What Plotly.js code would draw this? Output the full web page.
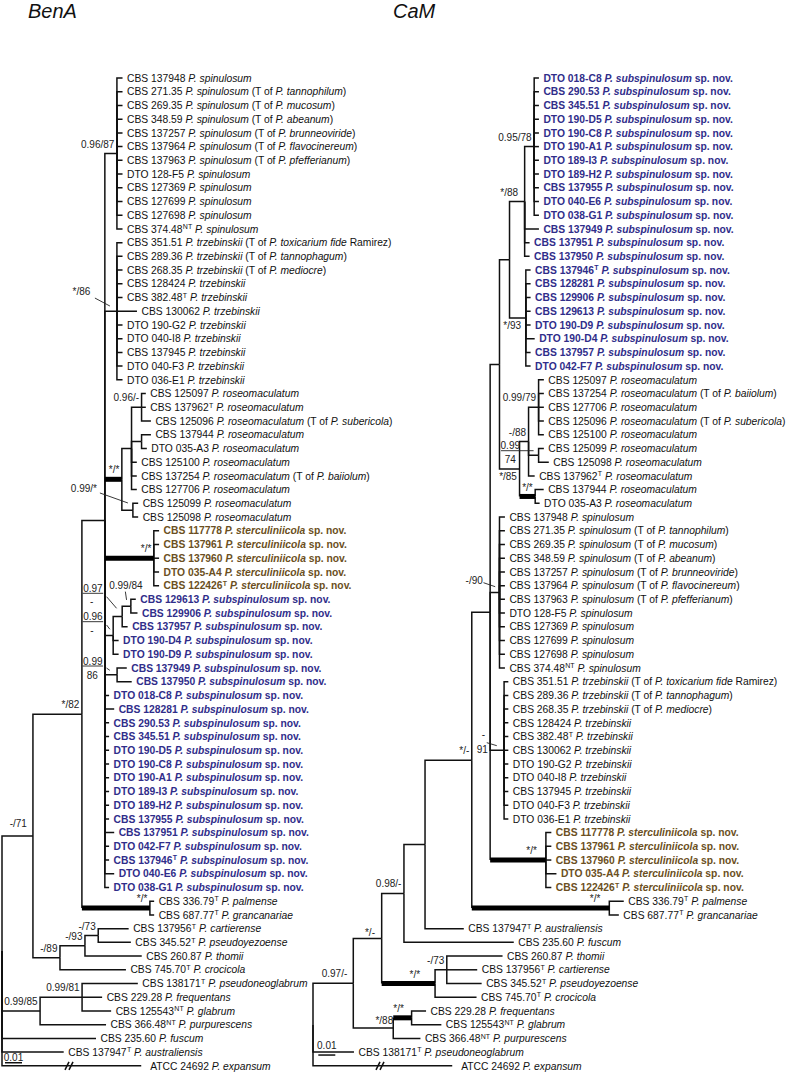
<!DOCTYPE html>
<html><head><meta charset="utf-8">
<script src="https://cdn.plot.ly/plotly-3.0.1.min.js"></script>
<style>html,body{margin:0;padding:0;background:#fff}#chart{width:786px;height:1074px}</style>
</head><body><div id="chart"></div>
<script>
// ================= DATA =================
const treeTitles = ["BenA", "CaM"];
const scaleBarValue = 0.01;

// strain catalogue (index = tip id used in the Newick strings)
const tipStrains = [
 "CBS 137948","CBS 271.35","CBS 269.35","CBS 348.59","CBS 137257","CBS 137964","CBS 137963","DTO 128-F5","CBS 127369","CBS 127699","CBS 127698","CBS 374.48",
 "CBS 351.51","CBS 289.36","CBS 268.35","CBS 128424","CBS 382.48","CBS 130062","DTO 190-G2","DTO 040-I8","CBS 137945","DTO 040-F3","DTO 036-E1",
 "CBS 125097","CBS 137962","CBS 125096","CBS 137944","DTO 035-A3","CBS 125100","CBS 137254","CBS 127706","CBS 125099","CBS 125098",
 "CBS 117778","CBS 137961","CBS 137960","DTO 035-A4","CBS 122426",
 "CBS 129613","CBS 129906","CBS 137957","DTO 190-D4","DTO 190-D9","CBS 137949","CBS 137950","DTO 018-C8","CBS 128281","CBS 290.53","CBS 345.51",
 "DTO 190-D5","DTO 190-C8","DTO 190-A1","DTO 189-I3","DTO 189-H2","CBS 137955","CBS 137951","DTO 042-F7","CBS 137946","DTO 040-E6","DTO 038-G1",
 "CBS 336.79","CBS 687.77","CBS 137956","CBS 345.52","CBS 260.87","CBS 745.70","CBS 138171","CBS 229.28","CBS 125543","CBS 366.48","CBS 235.60","CBS 137947","ATCC 24692"
];
const tipSpecies = [
 "spinulosum","spinulosum","spinulosum","spinulosum","spinulosum","spinulosum","spinulosum","spinulosum","spinulosum","spinulosum","spinulosum","spinulosum",
 "trzebinskii","trzebinskii","trzebinskii","trzebinskii","trzebinskii","trzebinskii","trzebinskii","trzebinskii","trzebinskii","trzebinskii","trzebinskii",
 "roseomaculatum","roseomaculatum","roseomaculatum","roseomaculatum","roseomaculatum","roseomaculatum","roseomaculatum","roseomaculatum","roseomaculatum","roseomaculatum",
 "sterculiniicola","sterculiniicola","sterculiniicola","sterculiniicola","sterculiniicola",
 "subspinulosum","subspinulosum","subspinulosum","subspinulosum","subspinulosum","subspinulosum","subspinulosum","subspinulosum","subspinulosum","subspinulosum","subspinulosum",
 "subspinulosum","subspinulosum","subspinulosum","subspinulosum","subspinulosum","subspinulosum","subspinulosum","subspinulosum","subspinulosum","subspinulosum","subspinulosum",
 "palmense","grancanariae","cartierense","pseudoyezoense","thomii","crocicola","pseudoneoglabrum","frequentans","glabrum","purpurescens","fuscum","australiensis","expansum"
];
const typeMarkIdx = [11,16,24,37,57,60,61,62,63,65,66,68,69,71];
const typeMarkVal = ["NT","T","T","T","T","T","T","T","T","T","T","NT","NT","T"];
const typeOfIdx = [1,2,3,4,5,6,12,13,14,25,29];
const typeOfName = ["tannophilum","mucosum","abeanum","brunneoviride","flavocinereum","pfefferianum","toxicarium fide","tannophagum","mediocre","subericola","baiiolum"];
const typeOfAuthor = ["","","","","","","Ramirez","","","",""];
const novelSpecies = ["sterculiniicola","subspinulosum"];
const brokenTip = 72;

// trees: tip ids, support values (BI pp / ML bs) and branch lengths (substitutions/site)
const newickBenA = "(((((0:0.0033,1:0.0033,2:0.0033,3:0.0033,4:0.0033,5:0.0033,6:0.0033,7:0.0033,8:0.0033,9:0.0033,10:0.0033,11:0.0033)'0.96/87':0.0071," +
 "(12:0.0033,13:0.0033,14:0.0033,15:0.0033,16:0.0033,17:0.0118,18:0.0033,19:0.0033,20:0.0033,21:0.0033,22:0.0033)'*/86':0.0071," +
 "(((23:0.0025,24:0.0025,25:0.0055)'0.96/-':0.0059,(26:0.0055,27:0.0031):0.0059,28:0.0031,29:0.0031,30:0.0031):0.0057,(31:0.0031,32:0.0031)'0.99/*':0.0065)'*/*':0.0100," +
 "(33:0.0031,34:0.0031,35:0.0031,36:0.0031,37:0.0031)'*/*':0.0288," +
 "(((38:0.0029,39:0.0039)'0.99/84':0.0051,40:0.0032)'0.97/-':0.0053,41:0.0032,42:0.0032)'0.96/-':0.0049," +
 "(43:0.0057,44:0.0086)'0.99/86':0.0072," +
 "45:0.0025,46:0.0055,47:0.0025,48:0.0025,49:0.0025,50:0.0025,51:0.0025,52:0.0025,53:0.0025,54:0.0025,55:0.0055,56:0.0025,57:0.0025,58:0.0055,59:0.0025):0.0135," +
 "(60:0.0025,61:0.0025)'*/*':0.0400)'*/82':0.0288," +
 "(((62:0.0179,63:0.0192)'-/73':0.0078,64:0.0334)'-/93':0.0147,65:0.0388)'-/89':0.0159)'-/71':0.0182," +
 "((66:0.0328,67:0.0118,68:0.0171)'0.99/81':0.0247,69:0.0388)'0.99/85':0.0224,70:0.0553,71:0.0363,72:0.0819);";

const newickCaM = "(((((((((((45:0.0028,47:0.0028,48:0.0028,49:0.0028,50:0.0028,51:0.0028,52:0.0028,53:0.0028,54:0.0028,58:0.0028,59:0.0028)'0.95/78':0.0056,43:0.0084,55:0.0029,44:0.0029)'*/88':0.0089," +
 "(57:0.0028,46:0.0028,39:0.0028,38:0.0028,42:0.0028,41:0.0052,40:0.0028,56:0.0028)'*/93':0.0096):0.0059," +
 "(((23:0.0031,29:0.0031,30:0.0031,25:0.0031,28:0.0031)'0.99/79':0.0059,(31:0.0031,32:0.0060)'0.99/74':0.0059,24:0.0036)'-/88':0.0053,(26:0.0050,27:0.0026)'*/*':0.0092)'*/85':0.0118):0.0055," +
 "(0:0.0032,1:0.0032,2:0.0032,3:0.0032,4:0.0032,5:0.0032,6:0.0032,7:0.0032,8:0.0032,9:0.0032,10:0.0032,11:0.0032)'-/90':0.0055," +
 "(12:0.0025,13:0.0025,14:0.0025,15:0.0025,16:0.0025,17:0.0025,18:0.0025,19:0.0025,20:0.0025,21:0.0025,22:0.0025)'-/91':0.0082," +
 "(33:0.0032,34:0.0032,35:0.0032,36:0.0062,37:0.0032)'*/*':0.0328):0.0108," +
 "(60:0.0085,61:0.0056)'*/*':0.0809)'*/-':0.0275,71:0.0228):0.0124,70:0.0646)'0.98/-':0.0131," +
 "((64:0.0328,62:0.0179,63:0.0205)'-/73':0.0069,65:0.0244)'*/*':0.0314)'*/-':0.0167," +
 "((67:0.0085,68:0.0175)'*/*':0.0108,69:0.0160)'*/88':0.0235)'0.97/-':0.0237,66:0.0241,72:0.0819);";

// ================= PRESENTATION =================
const W = 786, H = 1074;
const PXU = 1 / 1700;          // substitutions per pixel (0.01 = 17 px)
const ROW = 13.72, TOP = 78;   // tip row spacing and first row (px)
const FONT = "Liberation Sans, Arial, Helvetica, sans-serif";
const TIP_SIZE = 10.3, SUP_SIZE = 7, SUP_SIZE_STR = 10;
const NOVEL_COLOR = {subspinulosum: "#302d8a", sterculiniicola: "#6b4f22"};
const dx = p => p * PXU, dy = p => p / ROW;

const treeSetup = [
  {newick: newickBenA, rootPx: 2, titlePx: 28, scale: {dx: 3, dy: -3.1, tdy: -5.5}},
  {newick: newickCaM, rootPx: 313, titlePx: 393, scale: {dx: 5.3, dy: -10.8, tdy: -10}}
];
// support-label placement (px, relative to node). default: right-aligned above the branch
const placements = [
 { '-/71@0-65': {rx: -6, dy: -13},
   '*/86@12-22': {c: [-35.5, -19.5], lead: [[-22, -13.2], [-7, -5.2]]},
   '0.99/*@31-32': {c: [-49, -22], lead: [[-33, -17.2], [-5, -7.2]]},
   '0.99/84@38-39': {c: [-5, -21.3], lead: [[-5.5, -14.6], [-4.3, -6.3]]},
   '0.97/-@38-40': {frac: [[-29.3, -28.2], [-30.6, -14.8]], bar: [[-39.6, -23.2], [-19, -23.2]], lead: [[-15.6, -19.8], [-5.6, -8.2]]},
   '0.96/-@38-42': {frac: [[-20.3, -18.7], [-21.3, -5.4]], bar: [[-30.6, -13.7], [-10, -13.7]], lead: [[-6.6, -10.4], [-3.3, -6.1]]},
   '0.99/86@43-44': {frac: [[-24.3, -13.1], [-24.8, 0.2]], bar: [[-34.6, -8.8], [-14, -8.8]], lead: [[-10.6, -6.8], [-7.3, -4.5]]}
 },
 { '*/88@45-44': {rx: -6.5},
   '*/93@57-56': {rx: -4.7, dy: 7.6},
   '0.99/74@31-32': {frac: [[-28.3, -9.6], [-28.3, 3.7]], bar: [[-37.6, -4.6], [-5, -4.6]]},
   '*/85@23-27': {rx: -2.6, dy: 7.7},
   '-/90@0-11': {c: [-25.3, -12.5], lead: [[-16, -9.8], [-4.3, -5.8]]},
   '-/91@12-22': {frac: [[-20.7, -16.3], [-21.7, -1.3]], lead: [[-17.3, -7.6], [-7.3, -4.6]]},
   '*/*@33-37': {rx: -9}, '*/*@60-61': {rx: -9}, '*/-@45-65': {rx: -6.7, dy: -6.5},
   '*/*@64-65': {rx: -15}, '0.97/-@45-69': {rx: -6}, '*/*@67-68': {rx: -7.7}, '*/88@67-69': {rx: 0, dy: -8}
 }
];
const TEXT_NUDGE = 1.1; // px, plotly centres text slightly above the point

// ================= NEWICK =================
function parseNewick(str) {
  const s = str.replace(/\s+/g, ''); let i = 0;
  function node() {
    const n = {children: []};
    if (s[i] === '(') { i++; do { n.children.push(node()); } while (s[i++] === ','); }
    let lab = '';
    if (s[i] === "'") { i++; while (s[i] !== "'") lab += s[i++]; i++; }
    else { while (i < s.length && !':,);'.includes(s[i])) lab += s[i++]; }
    n.label = lab; n.len = 0;
    if (s[i] === ':') { i++; let num = ''; while (i < s.length && !',);'.includes(s[i])) num += s[i++]; n.len = parseFloat(num); }
    return n;
  }
  return node();
}

const ctx = document.createElement('canvas').getContext('2d');
function textWidth(s, bold, size) { ctx.font = (bold ? 'bold ' : '') + size + 'px "Liberation Sans", Arial, sans-serif'; return ctx.measureText(s).width; }

function tipParts(i) {
  const novel = novelSpecies.includes(tipSpecies[i]);
  const mk = typeMarkIdx.indexOf(i);
  let rest = '<i>P. ' + tipSpecies[i] + '</i>';
  const to = typeOfIdx.indexOf(i);
  if (to >= 0) rest += ' (T of <i>P. ' + typeOfName[to] + '</i>' + (typeOfAuthor[to] ? ' ' + typeOfAuthor[to] : '') + ')';
  if (novel) rest += ' sp. nov.';
  return {novel: novel, strain: tipStrains[i], sup: mk >= 0 ? typeMarkVal[mk] : '', rest: rest};
}

const thin = {x: [], y: []}, thick = {x: [], y: []}, leadL = {x: [], y: []};
const tipT = {x: [], y: [], t: [], c: [], s: []}, supR = {x: [], y: [], t: []}, supC = {x: [], y: [], t: []};
function seg(a, pts) { pts.forEach(p => { a.x.push(p[0]); a.y.push(p[1]); }); a.x.push(null); a.y.push(null); }
function addTip(x, y, t, c, s) { tipT.x.push(x); tipT.y.push(y); tipT.t.push(t); tipT.c.push(c); tipT.s.push(s); }
const annotations = [];

treeSetup.forEach((cfg, ti) => {
  const root = parseNewick(cfg.newick);
  let row = 0; const tips = [];
  (function place(n, px) {
    n.x = px + n.len;
    if (!n.children.length) { n.y = row++; n.tip = +n.label; n.first = n.last = n.tip; tips.push(n); }
    else { n.children.forEach(c => place(c, n.x)); const a = n.children[0], b = n.children[n.children.length - 1];
      n.y = (a.y + b.y) / 2; n.first = a.first; n.last = b.last; }
  })(root, dx(cfg.rootPx));

  (function draw(n) {
    n.children.forEach(c => {
      if (c.label === '*/*') { seg(thin, [[n.x, n.y], [n.x, c.y]]); seg(thick, [[n.x, c.y], [c.x, c.y]]); }
      else seg(thin, [[n.x, n.y], [n.x, c.y], [c.x, c.y]]);
      if (c.children.length) draw(c);
      else if (c.tip === brokenTip) [65, 69].forEach(b => seg(thin, [[root.x + dx(b - 2), c.y + dy(4)], [root.x + dx(b + 2), c.y - dy(4)]]));
    });
    if (n.children.length && n.label) {
      const key = n.label + '@' + n.first + '-' + n.last;
      const p = placements[ti][key] || {};
      const P = o => [n.x + dx(o[0]), n.y + dy(o[1])];
      const T = o => [n.x + dx(o[0]), n.y + dy(o[1] + TEXT_NUDGE)];
      if (p.frac) {
        const parts = n.label.split('/');
        [0, 1].forEach(k => { const q = T(p.frac[k]); supC.x.push(q[0]); supC.y.push(q[1]); supC.t.push(parts[k]); });
        if (p.bar) seg(leadL, p.bar.map(P)); if (p.lead) seg(leadL, p.lead.map(P));
      } else if (p.c) {
        const q = T(p.c); supC.x.push(q[0]); supC.y.push(q[1]); supC.t.push(n.label);
        if (p.lead) seg(leadL, p.lead.map(P));
      } else {
        const q = T([p.rx !== undefined ? p.rx : -2.5, p.dy !== undefined ? p.dy : -9.5]);
        supR.x.push(q[0]); supR.y.push(q[1]); supR.t.push(n.label);
      }
    }
  })(root);

  tips.forEach(t => {
    const q = tipParts(t.tip);
    const col = NOVEL_COLOR[tipSpecies[t.tip]] || '#111';
    const B = s => q.novel ? '<b>' + s + '</b>' : s;
    let x = t.x + dx(t.tip === brokenTip ? 9 : 4.5);
    const y = t.y + dy(TEXT_NUDGE);
    if (!q.sup) { addTip(x, y, B(q.strain + ' ' + q.rest), col, TIP_SIZE); return; }
    addTip(x, y, B(q.strain), col, TIP_SIZE);
    const w1 = textWidth(q.strain, q.novel, TIP_SIZE) + 0.3;
    addTip(x + dx(w1), y - dy(2.6), B(q.sup), col, SUP_SIZE);
    const w2 = textWidth(q.sup, q.novel, SUP_SIZE) + textWidth(' ', q.novel, TIP_SIZE);
    addTip(x + dx(w1 + w2), y, B(q.rest), col, TIP_SIZE);
  });

  const lastY = tips[tips.length - 1].y;
  const sx0 = root.x + dx(cfg.scale.dx), sy = lastY + dy(cfg.scale.dy);
  seg(thin, [[sx0, sy], [sx0 + scaleBarValue, sy]]);
  supC.x.push(sx0 + scaleBarValue / 2); supC.y.push(sy + dy(cfg.scale.tdy + TEXT_NUDGE)); supC.t.push(scaleBarValue.toFixed(2));

  annotations.push({xref: 'paper', yref: 'paper', x: (cfg.titlePx - 2) / W, y: 1 - 11.5 / H, xanchor: 'left', yanchor: 'middle',
    text: '<i>' + treeTitles[ti] + '</i>', showarrow: false, font: {family: FONT, size: 20, color: '#111'}});
});

const traces = [
  {type: 'scatter', mode: 'lines', x: thin.x, y: thin.y, line: {color: '#111', width: 1.5}, hoverinfo: 'skip'},
  {type: 'scatter', mode: 'lines', x: leadL.x, y: leadL.y, line: {color: '#222', width: 0.9}, hoverinfo: 'skip'},
  {type: 'scatter', mode: 'lines', x: thick.x, y: thick.y, line: {color: '#000', width: 5}, hoverinfo: 'skip'},
  {type: 'scatter', mode: 'text', x: tipT.x, y: tipT.y, text: tipT.t, textposition: 'middle right',
    textfont: {family: FONT, size: tipT.s, color: tipT.c}, hoverinfo: 'skip'},
  {type: 'scatter', mode: 'text', x: supR.x, y: supR.y, text: supR.t, textposition: 'middle left',
    textfont: {family: FONT, size: SUP_SIZE_STR, color: '#222'}, hoverinfo: 'skip'},
  {type: 'scatter', mode: 'text', x: supC.x, y: supC.y, text: supC.t, textposition: 'middle center',
    textfont: {family: FONT, size: SUP_SIZE_STR, color: '#222'}, hoverinfo: 'skip'}
];

const layout = {
  width: W, height: H, margin: {l: 0, r: 0, t: 0, b: 0},
  paper_bgcolor: '#fff', plot_bgcolor: '#fff', showlegend: false,
  xaxis: {range: [0, W * PXU], visible: false, fixedrange: true},
  yaxis: {range: [(H - TOP) / ROW, -TOP / ROW], visible: false, fixedrange: true},
  annotations: annotations
};
Plotly.newPlot('chart', traces, layout, {staticPlot: true, displayModeBar: false});
</script>
</body></html>
